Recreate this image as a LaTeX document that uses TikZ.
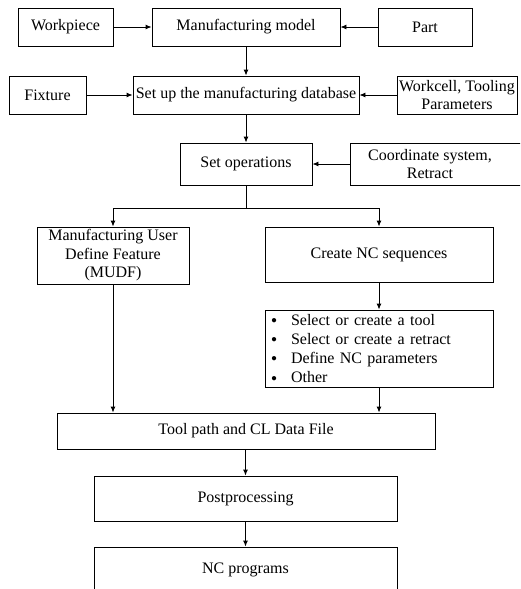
\documentclass[tikz,border=0pt]{standalone}
\usepackage{fontspec}
\setmainfont{Liberation Serif}
\usetikzlibrary{arrows.meta,positioning}
\newcommand{\blt}{\makebox[21pt][l]{\hspace{1pt}\raisebox{1.9pt}{\fontsize{10}{10}\selectfont\char"25CF}}}
\tikzset{
  box/.style={draw, line width=0.9pt, inner sep=0pt, align=center,
    font=\fontsize{16}{18.5}\selectfont},
  plain/.style={inner sep=0pt, align=center, font=\fontsize{16}{18.5}\selectfont},
  arr/.style={line width=0.9pt, -{Latex[length=6pt,width=5pt]}},
  ln/.style={line width=0.9pt}
}
\begin{document}
\begin{tikzpicture}[x=1pt,y=-1pt]
\useasboundingbox (0,0) rectangle (520,589);
\clip (0,0) rectangle (520,589);
% row 1
\node[box, minimum width=95pt, minimum height=38pt] (wp) at (65.5,27) {Workpiece};
\node[box, minimum width=188pt, minimum height=38pt] (mm) at (246,27) {Manufacturing model};
\node[box, minimum width=94pt, minimum height=38pt] (part) at (425,27) {Part};
% row 2
\node[box, minimum width=77pt, minimum height=38pt] (fix) at (47.5,95) {Fixture};
\node[box, minimum width=226pt, minimum height=38pt] (db) at (246,95) {Set up the manufacturing database};
\node[box, minimum width=120pt, minimum height=38pt] (wc) at (457,95) {Workcell, Tooling\\Parameters};
% row 3
\node[box, minimum width=132pt, minimum height=42pt] (so) at (246,164) {Set operations};
\node[box, minimum width=180pt, minimum height=42pt] (cs) at (440,164) {};
\node[plain] (cst) at (430,164) {Coordinate system,\\Retract};
% row 4
\node[box, minimum width=152pt, minimum height=57pt] (mudf) at (113,255.5) {Manufacturing User\\Define Feature\\(MUDF)};
\node[box, minimum width=228pt, minimum height=55pt] (ncs) at (379,254.5) {Create NC sequences};
\node[box, minimum width=228pt, minimum height=77pt, text width=218pt, align=left,
      font=\fontsize{16}{19.3}\selectfont] (list) at (379,348.5)
  {\blt Select or create a tool\\
   \blt Select or create a retract\\
   \blt Define NC parameters\\
   \blt Other};
% lower rows
\node[box, minimum width=378pt, minimum height=36pt] (tp) at (246,431) {Tool path and CL Data File};
\node[box, minimum width=303pt, minimum height=45pt] (pp) at (245.5,498.5) {Postprocessing};
\node[box, minimum width=303pt, minimum height=45pt] (nc) at (245.5,569.5) {NC programs};
% connectors
\draw[arr] (wp) -- (mm);
\draw[arr] (part) -- (mm);
\draw[arr] (mm) -- (db);
\draw[arr] (fix) -- (db);
\draw[arr] (wc) -- (db);
\draw[arr] (db) -- (so);
\draw[arr] (cs.west) -- (so.east);
\coordinate (br) at (246,208);
\draw[ln] (so.south) -- (br);
\draw[arr] (br) -| (mudf.north);
\draw[arr] (br) -| (ncs.north);
\draw[arr] (ncs) -- (list);
\draw[arr] (mudf.south) -- (mudf.south |- tp.north);
\draw[arr] (list.south) -- (list.south |- tp.north);
\draw[arr] (tp.south -| pp.north) -- (pp.north);
\draw[arr] (pp) -- (nc);
\end{tikzpicture}
\end{document}
